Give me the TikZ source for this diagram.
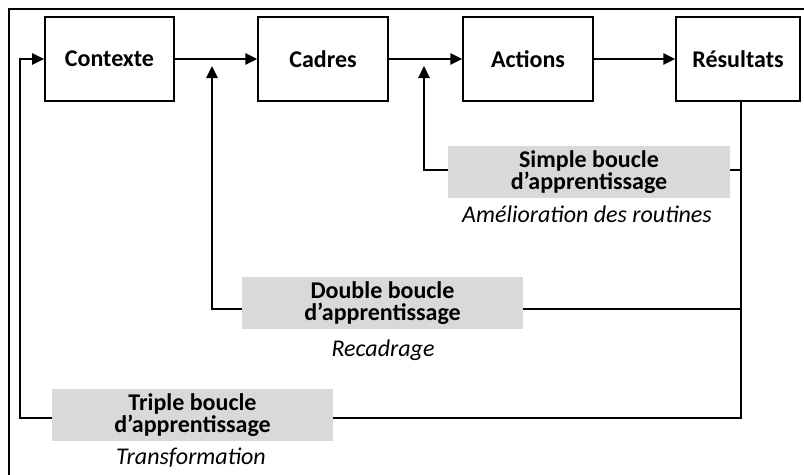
\documentclass[tikz,border=0pt]{standalone}
\usepackage{fontspec}
\setmainfont{Carlito}
\usetikzlibrary{arrows.meta, backgrounds}

\begin{document}
\begin{tikzpicture}[
        x=0.75pt, y=-0.75pt,
        stage/.style={draw, line width=1.1pt, minimum height=63pt, align=center,
            font=\fontsize{18}{20}\selectfont\bfseries},
        loopbox/.style={fill=gray!30, draw=none, minimum width=211pt, align=center,
            font=\fontsize{18}{16.5}\selectfont\bfseries},
        loopnote/.style={font=\fontsize{18}{20}\selectfont\itshape},
        link/.style={line width=1.4pt},
        arr/.style={link, -{Triangle[length=9pt, width=8.5pt]}}
    ]
        \useasboundingbox (0,0) rectangle (804,475);

        % Frame (cut at right and bottom)
        \draw[line width=2pt] (9,475) -- (9,9) -- (804,9);

        % Stages
        \node[stage, minimum width=97pt] (ctx) at (109.5,59) {Contexte};
        \node[stage, minimum width=97.5pt] (cad) at (323,59) {Cadres};
        \node[stage, minimum width=97.5pt] (act) at (528,59) {Actions};
        \node[stage, minimum width=93pt] (res) at (738,59) {Résultats};

        % Loops
        \node[loopbox, minimum height=37.5pt] (simple) at (589,172) {Simple boucle\\d’apprentissage};
        \node[loopnote] (simpleN) at (587,214) {Amélioration des routines};
        \node[loopbox, minimum height=39pt] (double) at (382.5,303) {Double boucle\\d’apprentissage};
        \node[loopnote] (doubleN) at (383,350) {Recadrage};
        \node[loopbox, minimum height=36pt] (triple) at (192.5,415) {Triple boucle\\d’apprentissage};
        \node[loopnote] (tripleN) at (191,458) {Transformation};

        % Return points
        \coordinate (back) at (741,101);
        \coordinate (jS) at (424,66);
        \coordinate (jD) at (212,66);

        % Forward chain
        \draw[arr] (ctx) -- (cad);
        \draw[arr] (cad) -- (act);
        \draw[arr] (act) -- (res);

        % Feedback lines behind the grey boxes
        \begin{scope}[on background layer]
            \draw[arr] (back) -- (741,418) -- (20,418) |- (ctx.west);
            \draw[arr] (741,170) -- (424,170) -- (jS);
            \draw[arr] (741,309) -- (212,309) -- (jD);
        \end{scope}
    \end{tikzpicture}
\end{document}
